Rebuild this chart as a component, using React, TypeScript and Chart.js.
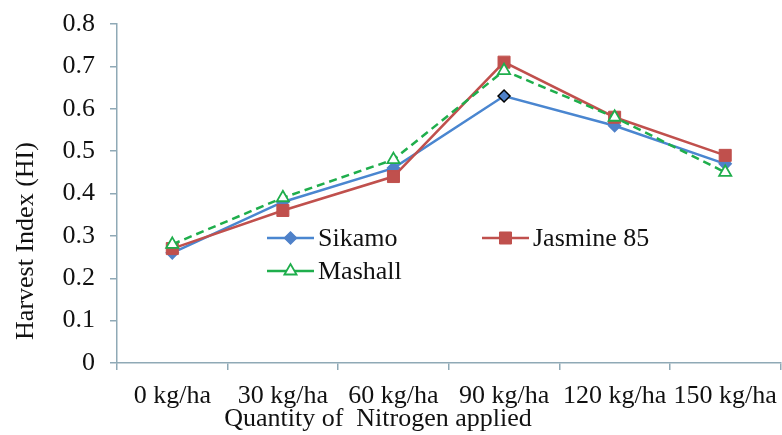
import React, { useEffect, useRef } from "react";
import { Chart, registerables } from "chart.js";

Chart.register(...registerables);

const categories = ["0 kg/ha", "30 kg/ha", "60 kg/ha", "90 kg/ha", "120 kg/ha", "150 kg/ha"];
const sikamo = [0.26, 0.38, 0.46, 0.63, 0.56, 0.47];
const jasmine85 = [0.27, 0.36, 0.44, 0.71, 0.58, 0.49];
const mashall = [0.28, 0.39, 0.48, 0.69, 0.58, 0.45];
const yTicks = [0, 0.1, 0.2, 0.3, 0.4, 0.5, 0.6, 0.7, 0.8];

const FONT = "'Liberation Serif', 'Times New Roman', serif";
const FS = 26;
const AXIS = "#8fa9b6";
const BLUE = "#4a86d0";
const RED = "#c0504d";
const GREEN = "#1fae4c";

function drawPt(ctx: CanvasRenderingContext2D, style: string, r: number, bw: number, x: number, y: number) {
  ctx.beginPath();
  if (style === "rectRot") {
    ctx.moveTo(x, y - r);
    ctx.lineTo(x + r, y);
    ctx.lineTo(x, y + r);
    ctx.lineTo(x - r, y);
    ctx.closePath();
  } else if (style === "rect") {
    const s = r * Math.SQRT1_2;
    ctx.rect(x - s, y - s, 2 * s, 2 * s);
  } else if (style === "triangle") {
    ctx.moveTo(x - Math.sin(Math.PI / 3) * r, y + r / 2);
    ctx.lineTo(x, y - r);
    ctx.lineTo(x + Math.sin(Math.PI / 3) * r, y + r / 2);
    ctx.closePath();
  }
  ctx.fill();
  if (bw) ctx.stroke();
}

const customText = {
  id: "customText",
  afterDraw(chart: any) {
    const ctx = chart.ctx;
    ctx.save();
    ctx.fillStyle = "#111";
    ctx.font = `${FS}px ${FONT}`;
    ctx.save();
    ctx.translate(26, 241);
    ctx.rotate(-Math.PI / 2);
    ctx.textAlign = "center";
    ctx.textBaseline = "middle";
    ctx.fillText("Harvest Index (HI)", 0, 0);
    ctx.restore();
    ctx.textAlign = "center";
    ctx.textBaseline = "middle";
    ctx.fillText("Quantity of  Nitrogen applied", 378, 419);

    const items = [
      { ds: 0, x: 267, y: 238 },
      { ds: 1, x: 482, y: 238 },
      { ds: 2, x: 267, y: 271 },
    ];
    items.forEach((it) => {
      const d: any = chart.data.datasets[it.ds];
      ctx.save();
      ctx.strokeStyle = d.borderColor;
      ctx.lineWidth = 2.5;
      ctx.beginPath();
      ctx.moveTo(it.x, it.y);
      ctx.lineTo(it.x + 47, it.y);
      ctx.stroke();
      ctx.fillStyle = d.pointBackgroundColor;
      ctx.strokeStyle = d.legendBorder;
      ctx.lineWidth = d.pointBorderWidth;
      drawPt(ctx, d.pointStyle, d.pointRadius, d.pointBorderWidth, it.x + 23.5, it.y);
      ctx.restore();
      ctx.fillStyle = "#111";
      ctx.textAlign = "left";
      ctx.textBaseline = "middle";
      ctx.font = `${FS}px ${FONT}`;
      ctx.fillText(d.label, it.x + 51, it.y + 1);
    });
    ctx.restore();
  },
};

export default function App() {
  const ref = useRef<HTMLCanvasElement | null>(null);
  useEffect(() => {
    if (!ref.current) return;
    const chart = new Chart(ref.current, {
      type: "line",
      data: {
        labels: categories,
        datasets: [
          {
            label: "Sikamo",
            data: sikamo,
            borderColor: BLUE,
            backgroundColor: BLUE,
            borderWidth: 2.5,
            pointStyle: "rectRot",
            pointRadius: 6,
            pointBackgroundColor: "#4f81c9",
            pointBorderColor: (c: any) => (c.dataIndex === 3 ? "#000" : "#4f81c9"),
            legendBorder: "#4f81c9",
            pointBorderWidth: 1.5,
            order: 2,
          } as any,
          {
            label: "Jasmine 85",
            data: jasmine85,
            borderColor: RED,
            backgroundColor: RED,
            borderWidth: 2.5,
            pointStyle: "rect",
            pointRadius: 8.5,
            pointBackgroundColor: RED,
            pointBorderColor: RED,
            legendBorder: RED,
            pointBorderWidth: 1,
            order: 1,
          } as any,
          {
            label: "Mashall",
            data: mashall,
            borderColor: GREEN,
            backgroundColor: "#fff",
            borderWidth: 2.5,
            borderDash: [8, 5],
            pointStyle: "triangle",
            pointRadius: 7,
            pointBackgroundColor: "#ffffff",
            pointBorderColor: GREEN,
            legendBorder: GREEN,
            pointBorderWidth: 1.8,
            order: 0,
          } as any,
        ],
      },
      options: {
        responsive: false,
        animation: false,
        layout: { padding: { left: 0, top: 24, right: 5, bottom: 0 } },
        plugins: { legend: { display: false }, tooltip: { enabled: false } },
        scales: {
          x: {
            offset: true,
            grid: {
              offset: true,
              drawOnChartArea: false,
              drawTicks: true,
              tickLength: 7,
              color: AXIS,
              lineWidth: 1.5,
            },
            border: { color: AXIS, width: 1.5 },
            ticks: {
              color: "#111",
              font: { family: FONT, size: FS },
              padding: 11,
              maxRotation: 0,
              autoSkip: false,
            },
            afterFit: (s: any) => {
              s.height = 72;
              s.paddingLeft = 0;
              s.paddingRight = 0;
            },
          },
          y: {
            min: 0,
            max: 0.8,
            afterBuildTicks: (s: any) => {
              s.ticks = yTicks.map((v) => ({ value: v }));
            },
            grid: {
              drawOnChartArea: false,
              drawTicks: true,
              tickLength: 7,
              color: AXIS,
              lineWidth: 1.5,
            },
            border: { color: AXIS, width: 1.5 },
            ticks: {
              color: "#111",
              font: { family: FONT, size: FS },
              padding: 15,
              callback: (v: any) => (Number(v) === 0 ? "0" : Number(v).toFixed(1)),
            },
            afterFit: (s: any) => {
              s.width = 117;
              s.paddingTop = 0;
              s.paddingBottom = 0;
            },
          },
        },
      },
      plugins: [customText],
    });
    return () => chart.destroy();
  }, []);
  return (
    <div style={{ position: "fixed", left: 0, top: 0, width: 782, height: 435, overflow: "hidden", background: "#fff" }}>
      <canvas ref={ref} width={790} height={435} style={{ display: "block" }} />
    </div>
  );
}
